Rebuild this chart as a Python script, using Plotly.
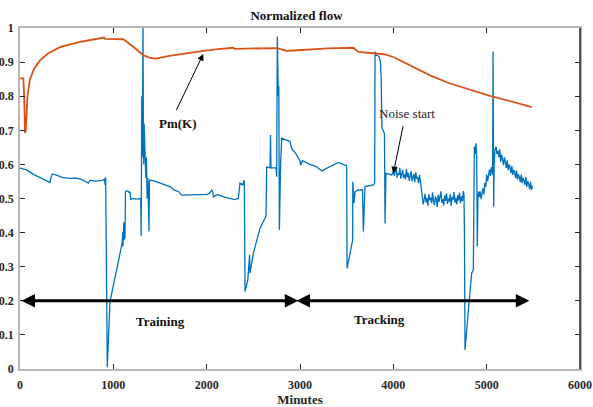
import plotly.graph_objects as go

# ---------------- data ----------------
orange_x = [0, 36, 45, 54, 62, 80, 107, 150, 214, 300, 429, 550, 643, 800, 900, 910, 1000, 1107,
            1200, 1321, 1400, 1457, 1600, 1800, 1964, 2100, 2286, 2300, 2411, 2600, 2750, 2800,
            2857, 2929, 3100, 3300, 3571, 3625, 3786, 3900, 4000, 4200, 4393, 4600, 4750, 5036,
            5300, 5482]
orange_y = [0.852, 0.852, 0.80, 0.692, 0.70, 0.80, 0.85, 0.88, 0.905, 0.925, 0.944, 0.953, 0.959,
            0.967, 0.972, 0.968, 0.967, 0.967, 0.948, 0.920, 0.912, 0.910, 0.918, 0.927, 0.933,
            0.937, 0.942, 0.939, 0.939, 0.941, 0.941, 0.937, 0.933, 0.934, 0.937, 0.940, 0.942,
            0.930, 0.926, 0.923, 0.915, 0.888, 0.861, 0.838, 0.825, 0.801, 0.782, 0.768]

blue_training = [
    (0, 0.589), (40, 0.587), (71, 0.584), (150, 0.570), (250, 0.556), (321, 0.547), (330, 0.560),
    (346, 0.572), (400, 0.568), (450, 0.562), (536, 0.559), (600, 0.560), (661, 0.556), (700, 0.550),
    (732, 0.545), (750, 0.553), (768, 0.553), (800, 0.550), (850, 0.552), (893, 0.554), (905, 0.558),
    (912, 0.540), (918, 0.562), (925, 0.300), (935, 0.005), (964, 0.197), (1018, 0.271), (1071, 0.339),
    (1095, 0.370), (1100, 0.400), (1104, 0.360), (1107, 0.398), (1112, 0.430), (1116, 0.380),
    (1125, 0.384), (1130, 0.520), (1150, 0.523), (1165, 0.520), (1172, 0.515), (1179, 0.520),
    (1185, 0.497), (1207, 0.500), (1250, 0.498), (1293, 0.500), (1298, 0.390), (1305, 0.800),
    (1310, 0.620), (1314, 0.810), (1318, 1.000), (1322, 0.700), (1326, 0.600), (1330, 0.720),
    (1340, 0.580), (1348, 0.560), (1355, 0.620), (1362, 0.500), (1370, 0.560), (1376, 0.450),
    (1382, 0.403), (1387, 0.550), (1393, 0.554), (1450, 0.550), (1500, 0.545), (1550, 0.540),
    (1607, 0.535), (1650, 0.525), (1700, 0.520), (1732, 0.510), (1800, 0.511), (1900, 0.511),
    (2000, 0.512), (2030, 0.515), (2054, 0.525), (2065, 0.520), (2071, 0.505), (2100, 0.510),
    (2121, 0.511), (2180, 0.505), (2250, 0.499), (2300, 0.497), (2339, 0.500), (2357, 0.545),
    (2386, 0.540), (2400, 0.554), (2404, 0.540), (2411, 0.227), (2440, 0.260), (2455, 0.300),
    (2460, 0.334), (2464, 0.281), (2500, 0.339), (2530, 0.370), (2571, 0.412), (2625, 0.442),
    (2636, 0.450), (2643, 0.593), (2679, 0.590), (2684, 0.686), (2689, 0.590), (2743, 0.590),
    (2750, 0.564), (2757, 0.975), (2762, 0.850), (2768, 0.800), (2773, 0.830), (2779, 0.408),
    (2792, 0.600), (2804, 0.677), (2893, 0.667), (2911, 0.647), (2964, 0.628),
]
blue_tracking = [
    (3000, 0.610), (3007, 0.598), (3025, 0.611), (3107, 0.600), (3179, 0.593), (3232, 0.581),
    (3304, 0.591), (3360, 0.600), (3411, 0.606), (3460, 0.600), (3500, 0.596), (3504, 0.295),
    (3564, 0.378), (3566, 0.549), (3570, 0.500), (3579, 0.486), (3590, 0.520), (3625, 0.525),
    (3670, 0.525), (3679, 0.403), (3696, 0.535), (3786, 0.540), (3800, 0.545), (3804, 0.931),
    (3812, 0.920), (3830, 0.920), (3850, 0.915), (3862, 0.900), (3870, 0.850), (3878, 0.706),
    (3890, 0.700), (3905, 0.690), (3911, 0.427), (3921, 0.574), (3982, 0.569), (3995, 0.575),
]
blue_noise_1 = [
    (4000, 0.583), (4010, 0.566), (4020, 0.579), (4030, 0.594), (4040, 0.561), (4050, 0.574),
    (4060, 0.569), (4070, 0.590), (4080, 0.558), (4090, 0.577), (4100, 0.584), (4110, 0.560),
    (4120, 0.571), (4130, 0.556), (4140, 0.586), (4150, 0.563), (4160, 0.575), (4170, 0.552),
    (4180, 0.569), (4190, 0.580), (4200, 0.551), (4210, 0.566), (4220, 0.572), (4230, 0.548),
    (4240, 0.577), (4250, 0.558), (4260, 0.563), (4270, 0.545), (4280, 0.569), (4290, 0.552),
    (4300, 0.525), (4310, 0.508), (4320, 0.483), (4330, 0.497), (4340, 0.514), (4350, 0.489),
    (4360, 0.501), (4370, 0.479), (4380, 0.512), (4390, 0.495), (4400, 0.503), (4410, 0.486),
    (4420, 0.518), (4430, 0.492), (4440, 0.481), (4450, 0.506), (4460, 0.499), (4470, 0.475),
    (4480, 0.511), (4490, 0.490), (4500, 0.504), (4510, 0.521), (4520, 0.487), (4530, 0.498),
    (4540, 0.480), (4550, 0.509), (4560, 0.493), (4570, 0.515), (4580, 0.484), (4590, 0.500),
    (4600, 0.491), (4610, 0.513), (4620, 0.478), (4630, 0.505), (4640, 0.496), (4650, 0.519),
    (4660, 0.488), (4670, 0.502), (4680, 0.483), (4690, 0.510), (4700, 0.494), (4710, 0.517),
    (4720, 0.486), (4730, 0.506), (4740, 0.492), (4750, 0.522),
]
blue_noise_2 = [
    (4757, 0.510), (4762, 0.400), (4768, 0.056), (4790, 0.130), (4804, 0.183), (4820, 0.230),
    (4839, 0.281), (4857, 0.290), (4862, 0.450), (4868, 0.652), (4876, 0.630), (4886, 0.662),
    (4893, 0.623), (4897, 0.500), (4900, 0.359), (4906, 0.500), (4914, 0.520), (4921, 0.505),
    (4930, 0.521), (4940, 0.498), (4950, 0.514), (4960, 0.530), (4970, 0.512), (4980, 0.546),
    (4990, 0.533), (5000, 0.570), (5010, 0.551), (5020, 0.563), (5030, 0.585), (5040, 0.566),
    (5050, 0.592), (5060, 0.578), (5064, 0.570), (5068, 0.931), (5072, 0.600), (5075, 0.476),
    (5080, 0.600), (5089, 0.642), (5100, 0.652), (5110, 0.631), (5120, 0.640), (5130, 0.622),
    (5140, 0.644), (5150, 0.607), (5160, 0.629), (5170, 0.615), (5180, 0.598), (5190, 0.621),
    (5200, 0.604), (5210, 0.590), (5220, 0.612), (5230, 0.583), (5240, 0.600), (5250, 0.591),
    (5260, 0.574), (5270, 0.596), (5280, 0.569), (5290, 0.584), (5300, 0.577), (5310, 0.560),
    (5320, 0.582), (5330, 0.556), (5340, 0.571), (5350, 0.563), (5360, 0.548), (5370, 0.570),
    (5380, 0.545), (5390, 0.561), (5400, 0.552), (5410, 0.540), (5420, 0.563), (5430, 0.534),
    (5440, 0.551), (5450, 0.543), (5460, 0.527), (5470, 0.549), (5480, 0.525), (5490, 0.538),
]

x_ticks = [0, 1000, 2000, 3000, 4000, 5000, 6000]
x_tick_labels = ["0", "1000", "2000", "3000", "4000", "5000", "6000"]
y_ticks = [0, 0.1, 0.2, 0.3, 0.4, 0.5, 0.6, 0.7, 0.8, 0.9, 1]
y_tick_labels = ["0", "0.1", "0.2", "0.3", "0.4", "0.5", "0.6", "0.7", "0.8", "0.9", "1"]

# ---------------- figure ----------------
blue_all = blue_training + blue_tracking + blue_noise_1 + blue_noise_2
bx = [p[0] for p in blue_all]
by = [p[1] for p in blue_all]

SERIF = "Liberation Serif, Times New Roman, serif"
BLUE = "#0072BD"
ORANGE = "#D95319"

fig = go.Figure()
fig.add_trace(go.Scatter(x=bx, y=by, mode="lines", line=dict(color=BLUE, width=1.3),
                         showlegend=False, hoverinfo="skip"))
fig.add_trace(go.Scatter(x=orange_x, y=orange_y, mode="lines",
                         line=dict(color=ORANGE, width=1.8), showlegend=False, hoverinfo="skip"))

axis_common = dict(ticks="inside", ticklen=5, tickcolor="#262626", tickwidth=1,
                   showgrid=False, zeroline=False, showline=True, linecolor="#b8b8b8",
                   linewidth=1.5, mirror="ticks",
                   tickfont=dict(family=SERIF, size=12, color="#262626"))

fig.update_xaxes(range=[0, 6000], tickvals=x_ticks,
                 ticktext=["<b>%s</b>" % t for t in x_tick_labels], ticklabelstandoff=4,
                 title=dict(text="<b>Minutes</b>", font=dict(family=SERIF, size=13, color="#262626"),
                            standoff=2),
                 automargin=False, **axis_common)
fig.update_yaxes(range=[0, 1], tickvals=y_ticks,
                 ticktext=["<b>%s</b>" % t for t in y_tick_labels], ticklabelstandoff=2,
                 automargin=False, **axis_common)

# right spine darker
fig.add_shape(type="line", xref="paper", yref="paper", x0=1, x1=1, y0=0, y1=1,
              line=dict(color="#262626", width=1.5))

ann_font_b = dict(family=SERIF, size=13, color="#111111")
fig.update_layout(
    width=593, height=407,
    margin=dict(l=20, r=13, t=28, b=38),
    plot_bgcolor="white", paper_bgcolor="white",
    title=dict(text="<b>Normalized flow</b>", x=0.5, xanchor="center", y=1 - 15 / 407,
               yanchor="middle", font=dict(family=SERIF, size=13, color="#111111")),
    annotations=[
        # Training / Tracking double arrows
        dict(x=2982, y=0.2, ax=0, ay=0.2, xref="x", yref="y", axref="x", ayref="y",
             showarrow=True, arrowhead=2, startarrowhead=2, arrowside="end+start",
             arrowwidth=3, arrowsize=0.9, startarrowsize=0.9, arrowcolor="#000000", text=""),
        dict(x=5457, y=0.2, ax=2946, ay=0.2, xref="x", yref="y", axref="x", ayref="y",
             showarrow=True, arrowhead=2, startarrowhead=2, arrowside="end+start",
             arrowwidth=3, arrowsize=0.9, startarrowsize=0.9, arrowcolor="#000000", text=""),
        dict(x=1500, y=0.139, xref="x", yref="y", text="<b>Training</b>", showarrow=False,
             font=ann_font_b),
        dict(x=3857, y=0.146, xref="x", yref="y", text="<b>Tracking</b>", showarrow=False,
             font=ann_font_b),
        # Pm(K) arrow
        dict(x=1964, y=0.924, ax=1668, ay=0.755, xref="x", yref="y", axref="x", ayref="y",
             showarrow=True, arrowhead=2, arrowwidth=1, arrowsize=1.3, arrowcolor="#000000",
             text=""),
        dict(x=1693, y=0.721, xref="x", yref="y", text="<b>Pm(K)</b>", showarrow=False,
             font=ann_font_b),
        # Noise start arrow
        dict(x=4000, y=0.574, ax=4107, ay=0.716, xref="x", yref="y", axref="x", ayref="y",
             showarrow=True, arrowhead=2, arrowwidth=1, arrowsize=1.3, arrowcolor="#000000",
             text=""),
        dict(x=4143, y=0.750, xref="x", yref="y", text="Noise start", showarrow=False,
             font=dict(family=SERIF, size=13, color="#222222")),
    ],
)

fig.write_html("out.html", config={"displayModeBar": False},
               post_script="document.body.style.margin='0px';")
